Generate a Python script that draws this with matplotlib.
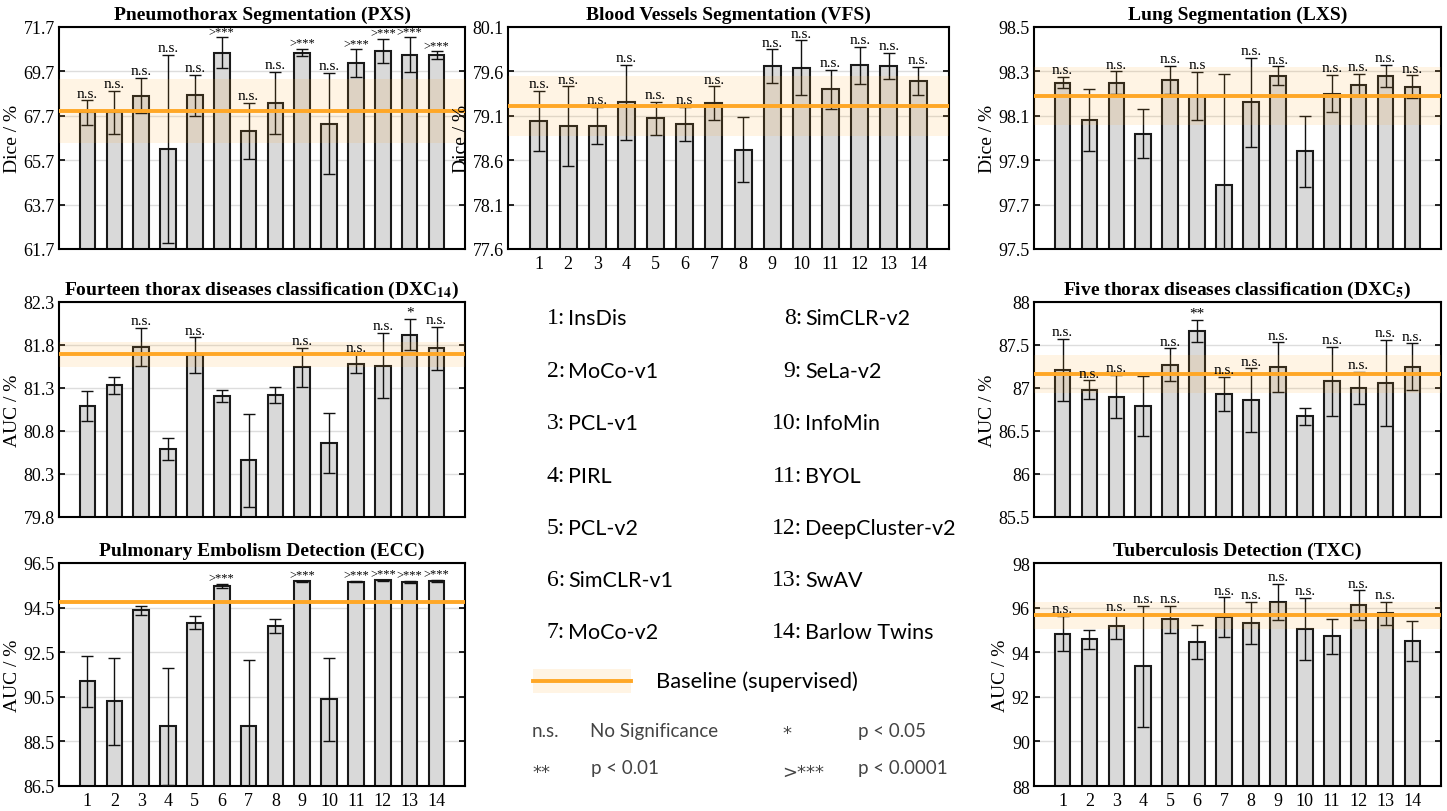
import matplotlib
matplotlib.use("Agg")
import matplotlib.pyplot as plt
import numpy as np

plt.rcParams['font.family'] = 'Liberation Serif'
plt.rcParams['mathtext.fontset'] = 'stix'

methods = ["InsDis", "MoCo-v1", "PCL-v1", "PIRL", "PCL-v2", "SimCLR-v1", "MoCo-v2",
           "SimCLR-v2", "SeLa-v2", "InfoMin", "BYOL", "DeepCluster-v2", "SwAV", "Barlow Twins"]
idx = np.arange(1, 15)

# Pneumothorax Segmentation (PXS)
pxs_mean = [67.85, 67.85, 68.61, 66.20, 68.63, 70.55, 67.01, 68.27, 70.55, 67.35, 70.07, 70.62, 70.46, 70.44]
pxs_err = [0.55, 0.97, 0.80, 4.25, 0.92, 0.68, 1.27, 1.40, 0.17, 2.27, 0.62, 0.54, 0.77, 0.16]
pxs_sig = ["n.s.", "n.s.", "n.s.", "n.s.", "n.s.", ">***", "n.s.", "n.s.", ">***", "n.s.", ">***", ">***", ">***", ">***"]
pxs_base, pxs_band = 67.92, 1.46

# Blood Vessels Segmentation (VFS)
vfs_mean = [79.04, 78.98, 78.99, 79.25, 79.07, 79.01, 79.24, 78.72, 79.66, 79.64, 79.40, 79.67, 79.66, 79.49]
vfs_err = [0.34, 0.45, 0.21, 0.42, 0.19, 0.19, 0.19, 0.37, 0.19, 0.31, 0.22, 0.21, 0.15, 0.16]
vfs_sig = ["n.s.", "n.s.", "n.s.", "n.s.", "n.s.", "n.s", "n.s.", "", "n.s.", "n.s.", "n.s.", "n.s.", "n.s.", "n.s."]
vfs_base, vfs_band = 79.21, 0.34

# Lung Segmentation (LXS)
lxs_mean = [98.25, 98.08, 98.25, 98.02, 98.26, 98.19, 97.79, 98.16, 98.28, 97.94, 98.20, 98.24, 98.28, 98.23]
lxs_err = [0.025, 0.14, 0.05, 0.11, 0.064, 0.107, 0.50, 0.20, 0.043, 0.16, 0.085, 0.05, 0.049, 0.052]
lxs_sig = ["n.s.", "", "n.s.", "", "n.s.", "n.s", "", "n.s.", "n.s.", "", "n.s.", "n.s.", "n.s.", "n.s."]
lxs_base, lxs_band = 98.19, 0.13

# Fourteen thorax diseases classification (DXC14)
dxc14_mean = [81.09, 81.33, 81.78, 80.59, 81.68, 81.21, 80.46, 81.22, 81.54, 80.66, 81.58, 81.56, 81.92, 81.76]
dxc14_err = [0.17, 0.10, 0.22, 0.13, 0.21, 0.07, 0.54, 0.09, 0.23, 0.35, 0.11, 0.38, 0.18, 0.25]
dxc14_sig = ["", "", "n.s.", "", "n.s.", "", "", "", "n.s.", "", "n.s.", "n.s.", "*", "n.s."]
dxc14_base, dxc14_band = 81.69, 0.145

# Five thorax diseases classification (DXC5)
dxc5_mean = [87.21, 86.98, 86.90, 86.79, 87.27, 87.66, 86.93, 86.86, 87.24, 86.67, 87.08, 87.00, 87.06, 87.25]
dxc5_err = [0.36, 0.11, 0.25, 0.35, 0.19, 0.13, 0.20, 0.37, 0.29, 0.10, 0.40, 0.19, 0.50, 0.27]
dxc5_sig = ["n.s.", "n.s.", "n.s.", "", "n.s.", "**", "n.s.", "n.s.", "n.s.", "", "n.s.", "n.s.", "n.s.", "n.s."]
dxc5_base, dxc5_band = 87.16, 0.22

# Pulmonary Embolism Detection (ECC)
ecc_mean = [91.19, 90.30, 94.39, 89.18, 93.82, 95.47, 89.19, 93.67, 95.69, 90.38, 95.66, 95.72, 95.65, 95.69]
ecc_err = [1.13, 1.95, 0.20, 2.63, 0.30, 0.10, 2.94, 0.30, 0.02, 1.84, 0.03, 0.02, 0.06, 0.05]
ecc_sig = ["", "", "", "", "", ">***", "", "", ">***", "", ">***", ">***", ">***", ">***"]
ecc_base, ecc_band = 94.75, 0.05

# Tuberculosis Detection (TXC)
txc_mean = [94.83, 94.57, 95.16, 93.36, 95.47, 94.45, 95.56, 95.32, 96.26, 95.04, 94.71, 96.11, 95.74, 94.51]
txc_err = [0.79, 0.41, 0.55, 2.73, 0.62, 0.76, 0.90, 0.93, 0.80, 1.40, 0.79, 0.67, 0.51, 0.89]
txc_sig = ["n.s.", "", "n.s.", "n.s.", "n.s.", "", "n.s.", "n.s.", "n.s.", "n.s.", "", "n.s.", "n.s.", ""]
txc_base, txc_band = 95.65, 0.60

W, H = 1447, 812
fig = plt.figure(figsize=(W / 100, H / 100), dpi=100)


def px_axes(left, top, right, bottom):
    return fig.add_axes([left / W, 1 - bottom / H, (right - left) / W, (bottom - top) / H])


def panel(ax, title, ylabel, mean, err, sig, base, band, ylim, ticks, ticklabels, show_x):
    ax.set_xlim(-0.06, 15.06)
    ax.set_ylim(*ylim)
    ax.set_yticks(ticks)
    ax.set_yticklabels(ticklabels, fontsize=13)
    ax.yaxis.grid(True, color='#dddddd', lw=1.0, zorder=0)
    ax.set_axisbelow(True)
    ax.bar(idx, mean, width=0.58, color='#d9d9d9', edgecolor='#1a1a1a', lw=1.5, zorder=2)
    ax.errorbar(idx, mean, yerr=err, fmt='none', ecolor='#111111', elinewidth=1.0,
                capsize=4, capthick=1.0, zorder=3)
    ax.axhspan(base - band, base + band, color='#ffa726', alpha=0.12, lw=0, zorder=4)
    ax.axhline(base, color='#ffa726', lw=2.8, zorder=5)
    for x, m, e, s in zip(idx, mean, err, sig):
        if s:
            fs = 9 if s.startswith('>') else 11
            ax.annotate(s, (x, m + e), xytext=(0, 0.5), textcoords='offset points',
                        ha='center', va='bottom', fontsize=fs, zorder=6,
                        annotation_clip=False)
    ax.set_title(title, fontsize=14, fontweight='bold', pad=6)
    ax.set_ylabel(ylabel, fontsize=14, labelpad=2)
    ax.tick_params(axis='y', direction='in', right=True, left=True, length=4, width=1.2, pad=3)
    ax.tick_params(axis='x', length=0, pad=4)
    ax.set_xticks(idx)
    if show_x:
        ax.set_xticklabels([str(i) for i in idx], fontsize=13)
    else:
        ax.set_xticklabels([])
    for sp in ax.spines.values():
        sp.set_linewidth(1.5)


c1 = (59, 465)
c2 = (508, 949)
c3 = (1034, 1441)
r1 = (28, 250)
r2 = (303, 518)
r3 = (564, 787)

ax = px_axes(c1[0], r1[0], c1[1], r1[1])
t = [61.7, 63.7, 65.7, 67.7, 69.7, 71.7]
panel(ax, "Pneumothorax Segmentation (PXS)", "Dice / %", pxs_mean, pxs_err, pxs_sig,
      pxs_base, pxs_band, (61.7, 71.7), t, ["%.1f" % v for v in t], False)

ax = px_axes(c2[0], r1[0], c2[1], r1[1])
t = [77.6, 78.1, 78.6, 79.1, 79.6, 80.1]
panel(ax, "Blood Vessels Segmentation (VFS)", "Dice / %", vfs_mean, vfs_err, vfs_sig,
      vfs_base, vfs_band, (77.6, 80.1), t, ["%.1f" % v for v in t], True)

ax = px_axes(c3[0], r1[0], c3[1], r1[1])
t = [97.5, 97.7, 97.9, 98.1, 98.3, 98.5]
panel(ax, "Lung Segmentation (LXS)", "Dice / %", lxs_mean, lxs_err, lxs_sig,
      lxs_base, lxs_band, (97.5, 98.5), t, ["%.1f" % v for v in t], False)

ax = px_axes(c1[0], r2[0], c1[1], r2[1])
t = [79.8, 80.3, 80.8, 81.3, 81.8, 82.3]
panel(ax, r"Fourteen thorax diseases classification (DXC$_\mathbf{14}$)", "AUC / %",
      dxc14_mean, dxc14_err, dxc14_sig, dxc14_base, dxc14_band, (79.8, 82.3), t,
      ["%.1f" % v for v in t], False)

ax = px_axes(c3[0], r2[0], c3[1], r2[1])
t = [85.5, 86, 86.5, 87, 87.5, 88]
panel(ax, r"Five thorax diseases classification (DXC$_\mathbf{5}$)", "AUC / %",
      dxc5_mean, dxc5_err, dxc5_sig, dxc5_base, dxc5_band, (85.5, 88), t,
      ["85.5", "86", "86.5", "87", "87.5", "88"], False)

ax = px_axes(c1[0], r3[0], c1[1], r3[1])
t = [86.5, 88.5, 90.5, 92.5, 94.5, 96.5]
panel(ax, "Pulmonary Embolism Detection (ECC)", "AUC / %", ecc_mean, ecc_err, ecc_sig,
      ecc_base, ecc_band, (86.5, 96.5), t, ["%.1f" % v for v in t], True)

ax = px_axes(c3[0], r3[0], c3[1], r3[1])
t = [88, 90, 92, 94, 96, 98]
panel(ax, "Tuberculosis Detection (TXC)", "AUC / %", txc_mean, txc_err, txc_sig,
      txc_base, txc_band, (88, 98), t, [str(v) for v in t], True)

# method legend in the middle
sans = 'Lato'
row_y = [319, 372, 424, 477, 529, 581, 633]
for i, name in enumerate(methods):
    col = i // 7
    y = 1 - row_y[i % 7] / H
    num_right = 565 if col == 0 else 802
    fig.text(num_right / W, y, "%d:" % (i + 1), ha='right', va='center',
             fontsize=17, family='Liberation Serif')
    fig.text((num_right + 3) / W, y, name, ha='left', va='center', fontsize=15.5, family=sans)

# baseline key
fig.patches.append(plt.Rectangle((533 / W, 1 - 694 / H), 98 / W, 24 / H,
                                 transform=fig.transFigure, color='#ffa726', alpha=0.12, lw=0))
fig.lines.append(plt.Line2D([533 / W, 631 / W], [1 - 682 / H, 1 - 682 / H],
                            transform=fig.transFigure, color='#ffa726', lw=2.8))
fig.text(656 / W, 1 - 682 / H, "Baseline (supervised)", ha='left', va='center',
         fontsize=15.8, family=sans)

# significance key
key = [("n.s.", 532, 732), ("No Significance", 590, 732), ("p < 0.05", 858, 732),
       ("p < 0.01", 591, 769), ("p < 0.0001", 858, 769)]
for txt, x, y in key:
    fig.text(x / W, 1 - y / H, txt, ha='left', va='center', fontsize=13.5, family=sans,
             color='#444444')
stars = [("*", 782, 734), ("**", 532, 773), (">***", 782, 773)]
for txt, x, y in stars:
    fig.text(x / W, 1 - y / H, txt, ha='left', va='center', fontsize=13,
             family='DejaVu Sans', color='#444444')

fig.savefig("out.png", dpi=100)
